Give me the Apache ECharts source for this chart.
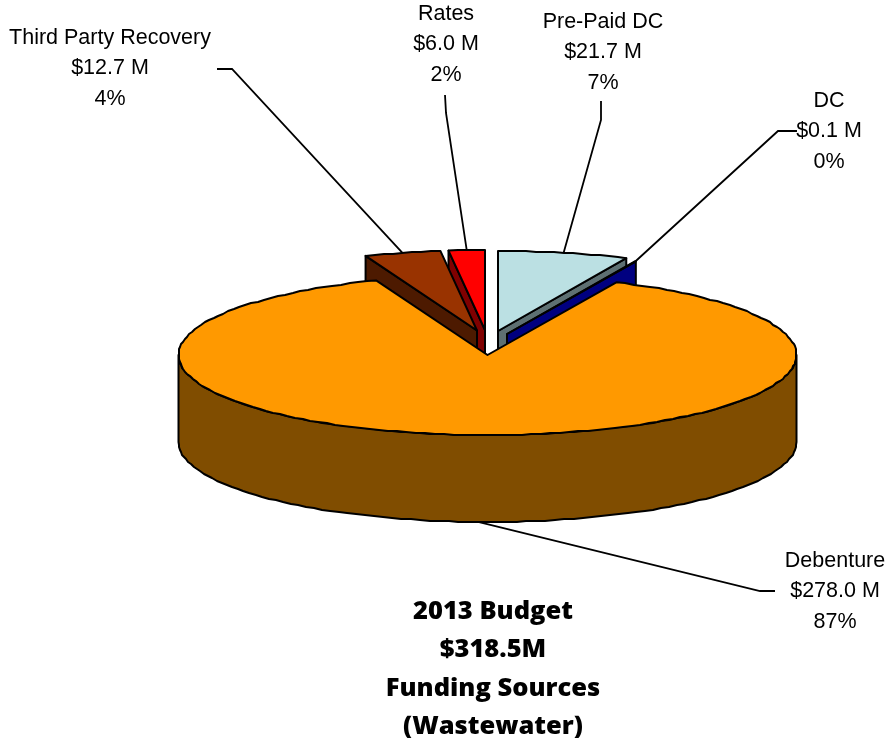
<!DOCTYPE html>
<html>
<head>
<meta charset="utf-8">
<style>html,body{margin:0;padding:0;background:#fff}#chart{width:887px;height:738px}</style>
<script src="https://cdn.jsdelivr.net/npm/echarts@6/dist/echarts.min.js"></script>
</head>
<body>
<div id="chart"></div>
<script>
// Funding sources, clockwise from twelve o'clock
const categories = ['Pre-Paid DC', 'DC', 'Debenture', 'Third Party Recovery', 'Rates'];
const amounts = [21.7, 0.1, 278.0, 12.7, 6.0];
const titleLines = ['2013 Budget', '$318.5M', 'Funding Sources', '(Wastewater)'];

// Pie projection
const CX = 487.5, CY = 355, RX = 309, RY = 80, DEPTH = 87;
// Per-slice pull-out from the pie centre, and colours (top, side)
const pull = { 'Pre-Paid DC': [10.5, -24], 'DC': [19.5, -21], 'Debenture': [0, 0], 'Third Party Recovery': [-10.5, -24.5], 'Rates': [-2.5, -25] };
const tops = { 'Pre-Paid DC': '#BBE0E3', 'DC': '#0000FF', 'Debenture': '#FF9900', 'Third Party Recovery': '#993300', 'Rates': '#FF0000' };
const sides = { 'Pre-Paid DC': '#5E7072', 'DC': '#000080', 'Debenture': '#804D00', 'Third Party Recovery': '#4D1A00', 'Rates': '#800000' };
// Label centre and first row, leader elbow points
const labelAt = { 'Pre-Paid DC': [603, 22], 'DC': [829, 101], 'Debenture': [835, 561], 'Third Party Recovery': [110, 38], 'Rates': [446, 14] };
const elbows = {
  'Pre-Paid DC': [[601, 101], [601, 120]],
  'DC': [[797, 131], [778, 131]],
  'Debenture': [[775, 591], [760, 591]],
  'Third Party Recovery': [[217, 69], [232, 69]],
  'Rates': [[445, 95], [446, 113]]
};
// Back-to-front painting order
const paintOrder = ['Rates', 'Pre-Paid DC', 'DC', 'Third Party Recovery', 'Debenture'];

const total = amounts.reduce((a, b) => a + b, 0);
const ranges = {};
let running = 0;
categories.forEach((c, i) => {
  const sweep = amounts[i] / total * 360;
  ranges[c] = [running, running + sweep];
  running += sweep;
});

const rad = d => d * Math.PI / 180;
function rim(c, deg, drop) {
  const p = pull[c];
  return [CX + p[0] + RX * Math.sin(rad(deg)), CY + p[1] - RY * Math.cos(rad(deg)) + (drop || 0)];
}
// Rim polyline; inner vertices snap to whole pixels for a slightly rough outline
function arc(c, a0, a1, drop) {
  const pts = [];
  const n = Math.max(1, Math.ceil((a1 - a0) / 1.8));
  for (let k = 0; k <= n; k++) {
    const q = rim(c, a0 + (a1 - a0) * k / n, drop);
    pts.push(k === 0 || k === n ? q : [Math.round(q[0]), Math.round(q[1])]);
  }
  return pts;
}

const outline = { stroke: '#000', lineWidth: 2, lineJoin: 'round' };

function renderSlice(params, api) {
  const c = paintOrder[params.dataIndex];
  const [a0, a1] = ranges[c];
  const p = pull[c];
  const apex = [CX + p[0], CY + p[1]];
  const kids = [];
  const poly = (points, fill) => kids.push({ type: 'polygon', shape: { points }, style: Object.assign({ fill }, outline) });
  const wall = a => {
    const r = rim(c, a);
    poly([apex, r, [r[0], r[1] + DEPTH], [apex[0], apex[1] + DEPTH]], sides[c]);
  };

  // radial walls that face the viewer
  if (Math.sin(rad(a0)) < -1e-6) wall(a0);
  if (Math.sin(rad(a1)) > 1e-6) wall(a1);
  // outer wall, front half only
  const f0 = Math.max(a0, 90), f1 = Math.min(a1, 270);
  if (f1 > f0) {
    poly(arc(c, f0, f1).concat(arc(c, f0, f1, DEPTH).reverse()), sides[c]);
  }
  // top face
  poly([apex].concat(arc(c, a0, a1)), tops[c]);

  // leader line from the rim at the mid-angle
  const mid = (a0 + a1) / 2;
  const drop = mid > 90 && mid < 270 ? DEPTH : 0;
  kids.push({
    type: 'polyline',
    shape: { points: elbows[c].concat([rim(c, mid, drop)]) },
    style: { stroke: '#000', lineWidth: 1.8, fill: null },
    z2: 50
  });

  // three-line label
  const [lx, ly] = labelAt[c];
  const amount = amounts[categories.indexOf(c)];
  [c, '$' + amount.toFixed(1) + ' M', Math.round(amount / total * 100) + '%'].forEach((t, i) => {
    kids.push({
      type: 'text', z2: 60,
      style: { x: lx, y: ly + i * 30.5, text: t, align: 'center', verticalAlign: 'middle', fill: '#000', font: '21.5px "Liberation Sans", Arial, sans-serif' }
    });
  });
  return { type: 'group', children: kids };
}

const chart = echarts.init(document.getElementById('chart'), null, { renderer: 'canvas' });
chart.setOption({
  animation: false,
  backgroundColor: '#fff',
  title: {
    text: titleLines.join('\n'),
    left: 488, top: 587, textAlign: 'center',
    textStyle: { fontFamily: 'Open Sans', fontWeight: 800, fontSize: 25.5, lineHeight: 38.5, color: '#000' }
  },
  series: [{
    type: 'custom',
    coordinateSystem: 'none',
    silent: true,
    data: paintOrder.map(c => ({ name: c, value: [amounts[categories.indexOf(c)]] })),
    renderItem: renderSlice
  }]
});
</script>
</body>
</html>
